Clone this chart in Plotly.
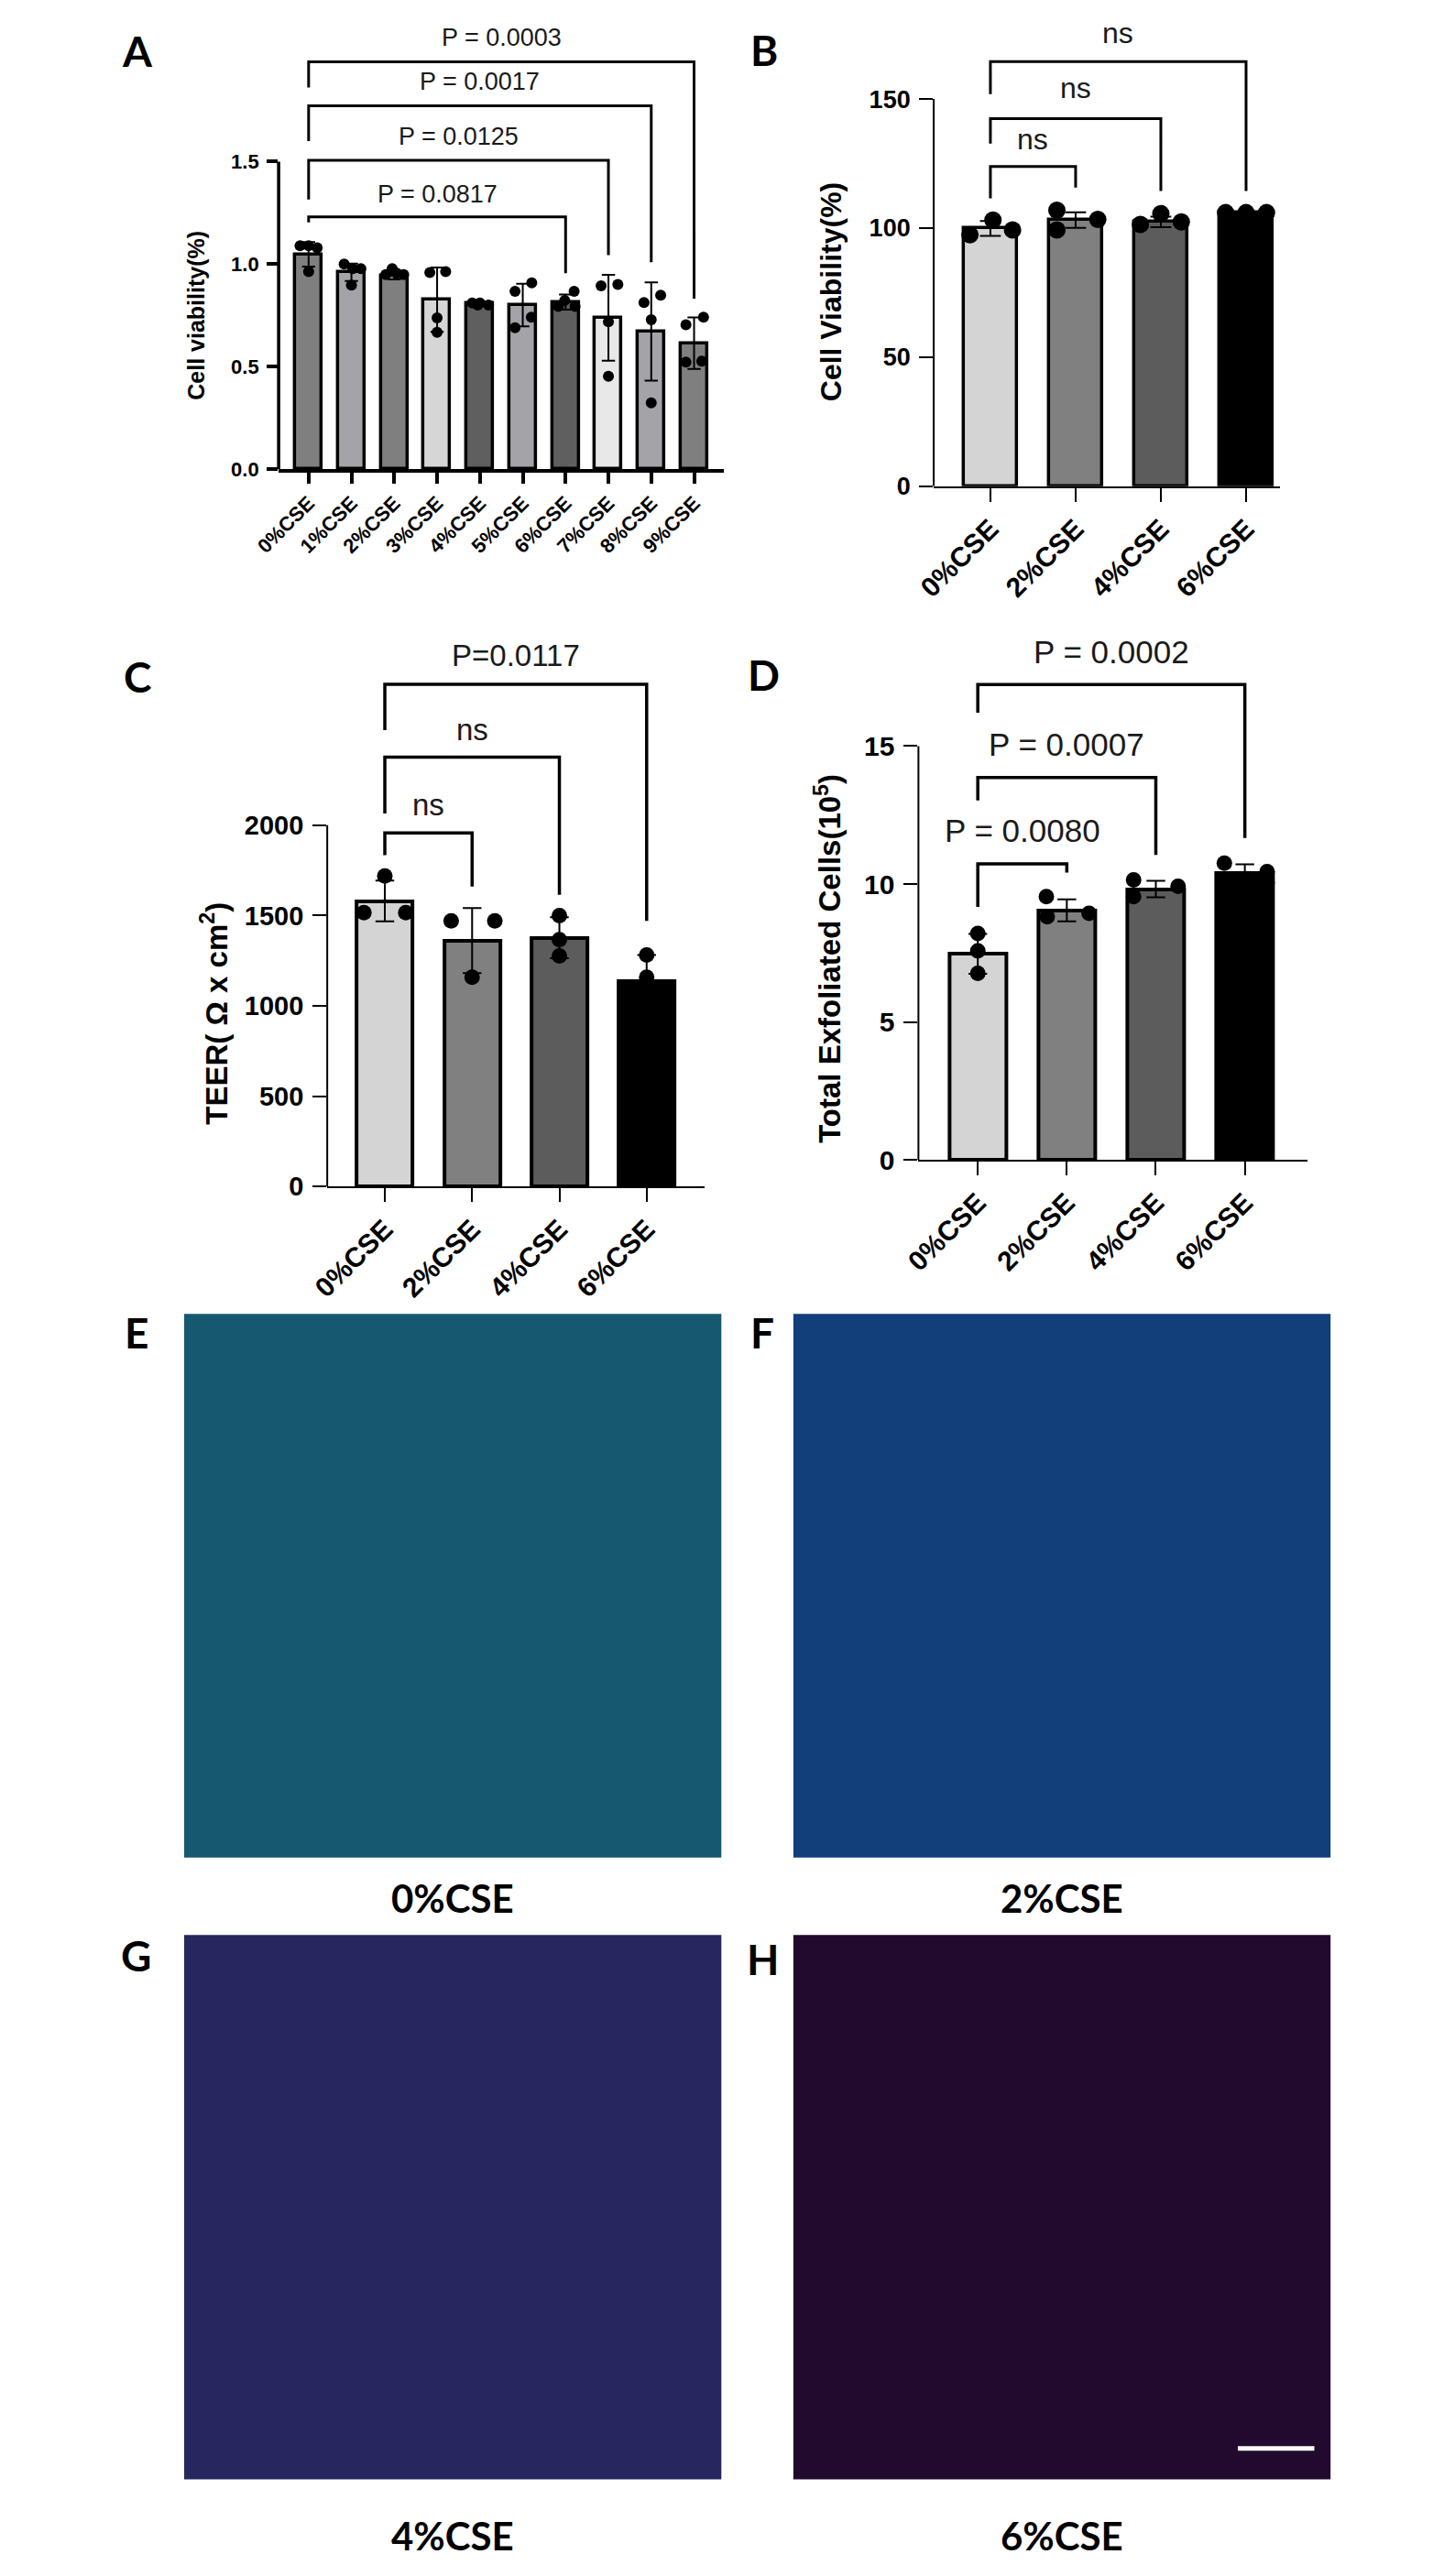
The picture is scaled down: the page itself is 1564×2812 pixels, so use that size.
import plotly.graph_objects as go

W, H = 1564, 2812

# ---------------- data ----------------
A_CATS = ["0%CSE", "1%CSE", "2%CSE", "3%CSE", "4%CSE", "5%CSE", "6%CSE", "7%CSE", "8%CSE", "9%CSE"]
A_MEAN = [1.048, 0.960, 0.945, 0.826, 0.808, 0.800, 0.815, 0.738, 0.671, 0.614]
A_SD = [0.060, 0.043, 0.020, 0.157, 0.010, 0.104, 0.037, 0.210, 0.240, 0.126]
A_DOTS = [[1.09, 1.09, 1.08, 0.963], [1.00, 0.978, 0.978, 0.897], [0.949, 0.978, 0.956, 0.949],
          [0.959, 0.963, 0.737, 0.667], [0.81, 0.81, 0.80, 0.80], [0.867, 0.909, 0.741, 0.689],
          [0.823, 0.867, 0.793, 0.793], [0.894, 0.901, 0.719, 0.452], [0.812, 0.848, 0.729, 0.323],
          [0.704, 0.741, 0.522, 0.526]]
A_JIT = [[-0.2, 0, 0.2, 0], [-0.17, 0.03, 0.22, 0], [-0.2, -0.05, 0.06, 0.22], [-0.17, 0.2, 0, 0],
         [-0.18, 0, 0.2, -0.05], [-0.18, 0.21, 0.2, -0.18], [-0.02, 0.2, -0.17, 0.22],
         [-0.17, 0.22, 0, 0], [-0.17, 0.22, 0, 0], [-0.19, 0.22, -0.19, 0.18]]
A_COLORS = ["#7f7f7f", "#a4a4a8", "#7f7f7f", "#d6d6d6", "#5f5f5f",
            "#a4a4a8", "#5f5f5f", "#e8e8e8", "#a4a4a8", "#7f7f7f"]
# (left, right, top, left leg end, right leg end, text, text y)
A_BRACKETS = [(0, 6, 1.231, 1.204, 0.956, "P = 0.0817", 1.342),
              (0, 7, 1.507, 1.316, 1.044, "P = 0.0125", 1.622),
              (0, 8, 1.773, 1.600, 1.009, "P = 0.0017", 1.889),
              (0, 9, 1.987, 1.862, 0.831, "P = 0.0003", 2.107)]

CSE4 = ["0%CSE", "2%CSE", "4%CSE", "6%CSE"]
GRAYS4 = ["#d4d4d4", "#808080", "#5c5c5c", "#000000"]

B_MEAN = [99.9, 103.1, 102.4, 106.0]
B_SD = [2.9, 3.0, 2.0, 0.3]
B_DOTS = [[97.4, 103.1, 99.3], [106.9, 99.3, 103.4], [101.4, 105.6, 102.4], [106.0, 106.0, 106.0]]
B_JIT = [[-0.24, 0.03, 0.26], [-0.22, -0.22, 0.26], [-0.24, 0, 0.24], [-0.24, 0, 0.24]]
B_BRACKETS = [(0, 1, 123.9, 111.5, 115.7, "ns", 134.6),
              (0, 2, 142.4, 132.7, 114.4, "ns", 154.2),
              (0, 3, 164.5, 151.9, 114.4, "ns", 175.6)]

C_MEAN = [1581, 1361, 1377, 1138]
C_SD = [113, 180, 113, 143]
C_DOTS = [[1719, 1516, 1516], [1470, 1470, 1158], [1500, 1366, 1276], [1281, 1158, 975]]
C_JIT = [[0, -0.24, 0.24], [-0.24, 0.26, 0], [0, 0, 0], [0, 0, 0]]
C_BRACKETS = [(0, 1, 1957, 1834, 1661, "ns", 2111),
              (0, 2, 2377, 2065, 1615, "ns", 2527),
              (0, 3, 2780, 2527, 1470, "P=0.0117", 2942)]

D_MEAN = [7.47, 9.05, 9.82, 10.42]
D_SD = [0.72, 0.40, 0.30, 0.30]
D_DOTS = [[8.21, 7.58, 6.77], [9.55, 8.82, 8.94], [10.15, 9.55, 9.92], [10.76, 10.45, 10.05]]
D_JIT = [[0, 0, 0], [-0.23, -0.22, 0.25], [-0.25, -0.25, 0.25], [-0.23, 0.25, 0.25]]
D_BRACKETS = [(0, 1, 10.73, 9.17, 10.42, "P = 0.0080", 11.94),
              (0, 2, 13.86, 13.03, 11.06, "P = 0.0007", 15.08),
              (0, 3, 17.23, 16.21, 11.67, "P = 0.0002", 18.41)]

IMG_CAPTIONS = ["0%CSE", "2%CSE", "4%CSE", "6%CSE"]
IMG_TINTS = ["rgb(22,88,112)", "rgb(18,62,122)", "rgb(40,38,95)", "rgb(34,10,46)"]


def px(x):
    return x / W


def py(y):
    return 1 - y / H


SANS = "Liberation Sans, Arial, sans-serif"
LETTER = "Lato, Open Sans, sans-serif"

fig = go.Figure()

# panel spec: axis suffix, pixel box, ranges, styling
panels = [
    dict(key="", cats=A_CATS, mean=A_MEAN, sd=A_SD, dots=A_DOTS, jit=A_JIT, colors=A_COLORS,
         brackets=A_BRACKETS, box=(273, 768, 12, 507), xr=[-0.7, 9.7], yr=[0, 2.2],
         ytop=1.5, ticks=[0, 0.5, 1.0, 1.5], ticktext=["0.0", "0.5", "1.0", "1.5"],
         lw=3.5, axw=3.5, barw=0.62, dot=12, tickfs=22, xfs=22, pfs=27, bw=3,
         title="Cell viability(%)", tpos=(181, 338), tfs=25, ticklen=12),
    dict(key="2", cats=CSE4, mean=B_MEAN, sd=B_SD, dots=B_DOTS, jit=B_JIT, colors=GRAYS4,
         brackets=B_BRACKETS, box=(1001, 1386, 10, 526), xr=[-0.665, 3.4], yr=[0, 182],
         ytop=150, ticks=[0, 50, 100, 150], ticktext=["0", "50", "100", "150"],
         lw=3.5, axw=2, barw=0.63, dot=19, tickfs=27, xfs=30, pfs=32, bw=3,
         title="Cell Viability(%)", tpos=(887, 313), tfs=32, ticklen=15),
    dict(key="3", cats=CSE4, mean=C_MEAN, sd=C_SD, dots=C_DOTS, jit=C_JIT, colors=GRAYS4,
         brackets=C_BRACKETS, box=(327, 746, 680, 1295), xr=[-0.66, 3.66], yr=[0, 3100],
         ytop=2000, ticks=[0, 500, 1000, 1500, 2000], ticktext=["0", "500", "1000", "1500", "2000"],
         lw=4, axw=2, barw=0.64, dot=17, tickfs=29, xfs=30, pfs=33, bw=3,
         title="TEER( \u03a9 x cm<sup>2</sup>)", tpos=(202, 1105), tfs=33, ticklen=15),
    dict(key="4", cats=CSE4, mean=D_MEAN, sd=D_SD, dots=D_DOTS, jit=D_JIT, colors=GRAYS4,
         brackets=D_BRACKETS, box=(984, 1416, 678, 1266), xr=[-0.667, 3.7], yr=[0, 19.4],
         ytop=15, ticks=[0, 5, 10, 15], ticktext=["0", "5", "10", "15"],
         lw=4, axw=2, barw=0.64, dot=17, tickfs=30, xfs=30, pfs=35, bw=3,
         title="Total Exfoliated Cells(10<sup>5</sup>)", tpos=(883, 1045), tfs=33, ticklen=15),
]

layout = dict(
    width=W, height=H, margin=dict(l=0, r=0, t=0, b=0),
    paper_bgcolor="white", plot_bgcolor="rgba(0,0,0,0)",
    showlegend=False, bargap=0, font=dict(family=SANS, color="black"),
)
shapes = []
annotations = []

for p in panels:
    k = p["key"]
    xa, ya = "x" + k, "y" + k
    n = len(p["cats"])
    idx = list(range(n))
    fig.add_trace(go.Bar(
        x=idx, y=p["mean"], width=p["barw"], xaxis=xa, yaxis=ya,
        marker=dict(color=p["colors"], line=dict(color="black", width=p["lw"])),
        error_y=dict(type="data", array=p["sd"], color="black", thickness=p["bw"] - 1,
                     width=p["dot"] * 0.6),
    ))
    xs, ys = [], []
    for i, (vals, offs) in enumerate(zip(p["dots"], p["jit"])):
        for v, o in zip(vals, offs):
            xs.append(i + o)
            ys.append(v)
    fig.add_trace(go.Scatter(x=xs, y=ys, mode="markers", xaxis=xa, yaxis=ya,
                             marker=dict(color="black", size=p["dot"]), cliponaxis=False))

    x0, x1, ytp, ybt = p["box"]
    layout["xaxis" + k] = dict(
        domain=[px(x0), px(x1)], range=p["xr"], anchor=ya,
        tickvals=idx, ticktext=p["cats"], tickangle=-45,
        ticks="outside", ticklen=p["ticklen"], tickwidth=p["axw"], tickcolor="black",
        showline=True, linecolor="black", linewidth=p["axw"],
        showgrid=False, zeroline=False,
        tickfont=dict(family=SANS, size=p["xfs"], weight=700, color="black"),
    )
    layout["yaxis" + k] = dict(
        domain=[py(ybt), py(ytp)], range=p["yr"], anchor=xa,
        tickvals=p["ticks"], ticktext=p["ticktext"],
        ticks="outside", ticklen=p["ticklen"], tickwidth=p["axw"], tickcolor="black",
        showline=False, showgrid=False, zeroline=False, ticklabelstandoff=4,
        tickfont=dict(family=SANS, size=p["tickfs"], weight=700, color="black"),
    )
    # y axis line only up to the top tick
    shapes.append(dict(type="line", xref=xa + " domain", yref=ya, x0=0, x1=0,
                       y0=0, y1=p["ytop"], line=dict(color="black", width=p["axw"])))
    # significance brackets
    for (l, r, top, lb, rb, txt, ty) in p["brackets"]:
        shapes.append(dict(type="path", xref=xa, yref=ya,
                           path=f"M {l},{lb} L {l},{top} L {r},{top} L {r},{rb}",
                           line=dict(color="black", width=p["lw"] - 0.5)))
        annotations.append(dict(x=(l + r) / 2, y=ty, xref=xa, yref=ya, text=txt,
                                showarrow=False, yanchor="middle",
                                font=dict(family=SANS, size=p["pfs"], color="#1a1a1a")))
    tx, ty_ = p["tpos"]
    annotations.append(dict(x=px(tx), y=py(ty_), xref="paper", yref="paper", text=p["title"],
                            textangle=-90, showarrow=False, xanchor="center", yanchor="middle",
                            font=dict(family=SANS, size=p["tfs"], weight=700, color="black")))

# microscopy panels (flat tint placeholders)
img_boxes = [(168, 765, 1435, 2032), (845, 1442, 1435, 2032),
             (168, 765, 2117, 2715), (845, 1442, 2117, 2715)]
cap_pos = [(466, 2077), (1143, 2077), (466, 2777), (1143, 2777)]
for (x0, x1, y0, y1), tint, cap, (cx, cy) in zip(img_boxes, IMG_TINTS, IMG_CAPTIONS, cap_pos):
    shapes.append(dict(type="rect", xref="paper", yref="paper", x0=px(x0), x1=px(x1),
                       y0=py(y1), y1=py(y0), fillcolor=tint, line=dict(width=0), layer="below"))
    annotations.append(dict(x=px(cx), y=py(cy), xref="paper", yref="paper", text=cap,
                            showarrow=False, xanchor="center", yanchor="middle",
                            font=dict(family=LETTER, size=42, weight=700, color="black")))

# scale bar in H
shapes.append(dict(type="line", xref="paper", yref="paper", x0=px(1339), x1=px(1424),
                   y0=py(2681), y1=py(2681), line=dict(color="white", width=5)))

# panel letters
letters = [("A", 116, 48), ("B", 813, 47), ("C", 116, 735), ("D", 812, 733),
           ("E", 115, 1455), ("F", 811, 1455), ("G", 115, 2139), ("H", 811, 2143)]
for t, lx, ly in letters:
    annotations.append(dict(x=px(lx), y=py(ly), xref="paper", yref="paper", text=t,
                            showarrow=False, xanchor="center", yanchor="middle",
                            font=dict(family=LETTER, size=46, weight=700, color="black")))

layout["shapes"] = shapes
layout["annotations"] = annotations
fig.update_layout(**layout)

fig.write_html("out.html")
